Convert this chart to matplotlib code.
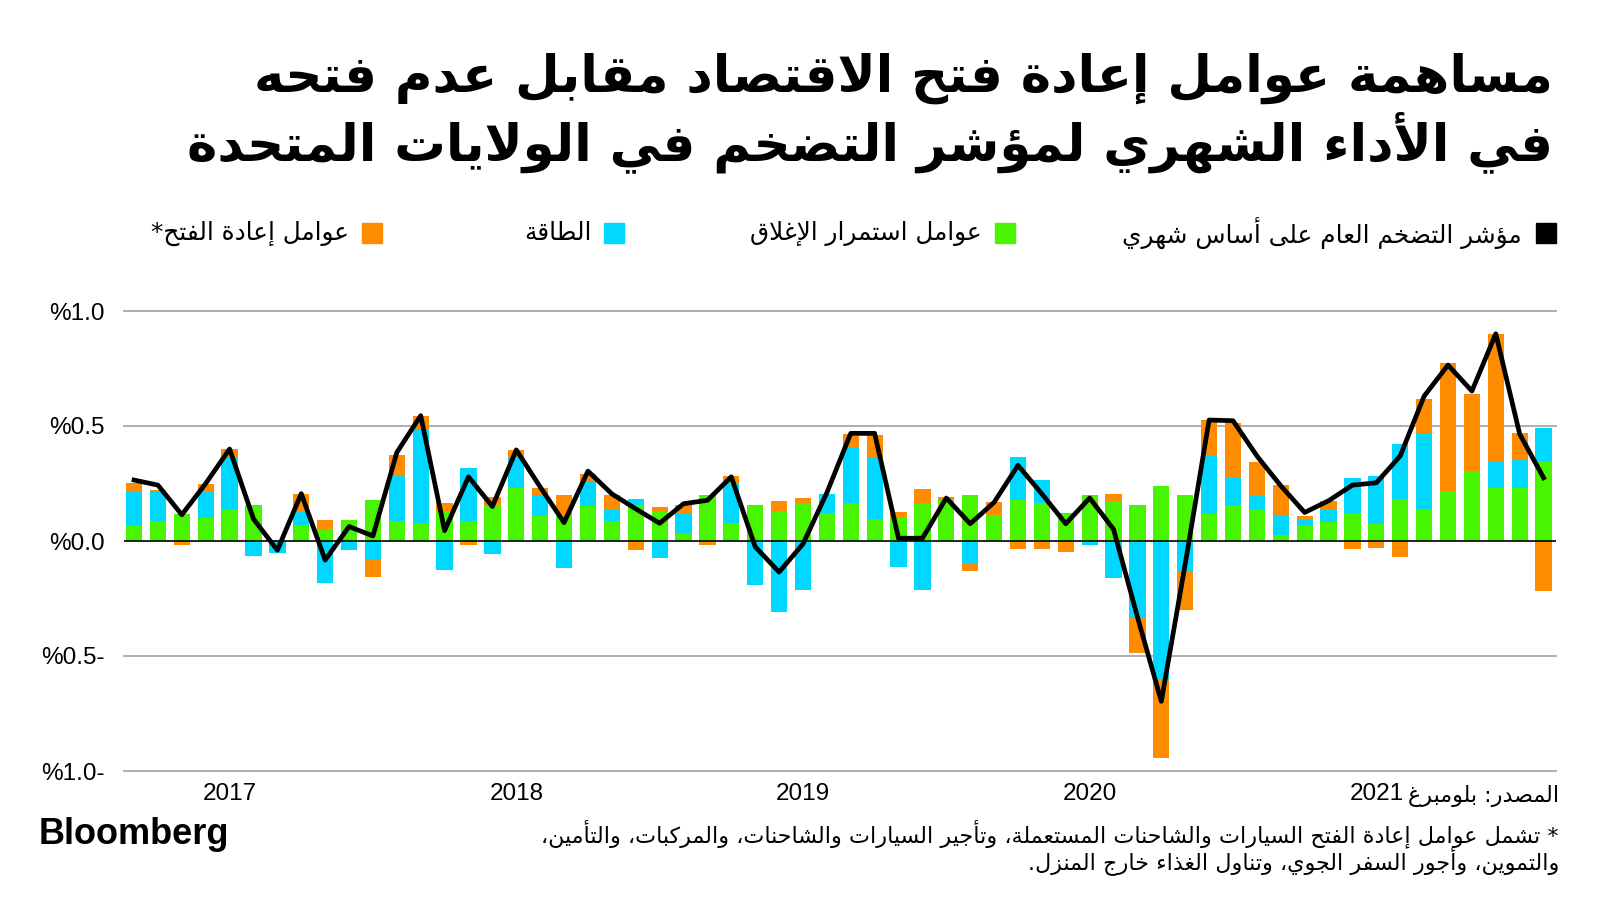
import numpy as np
import pandas as pd
import matplotlib
matplotlib.use('Agg')
import matplotlib.pyplot as plt
from matplotlib.patches import Rectangle

# monthly contributions to US CPI, Sep 2016 - Aug 2021 (percentage points)
months = pd.date_range('2016-09-01', '2021-08-01', freq='MS')

lockdown = [0.070, 0.088, 0.117, 0.098, 0.140, 0.158, 0.005, 0.070, 0.051, 0.092,
            0.177, 0.085, 0.080, 0.129, 0.088, 0.155, 0.230, 0.110, 0.107, 0.154,
            0.085, 0.155, 0.129, 0.029, 0.199, 0.080, 0.155, 0.132, 0.167, 0.123,
            0.164, 0.095, 0.098, 0.167, 0.177, 0.199, 0.114, 0.178, 0.165, 0.123,
            0.199, 0.173, 0.155, 0.238, 0.199, 0.118, 0.156, 0.137, 0.026, 0.069,
            0.082, 0.120, 0.075, 0.184, 0.133, 0.218, 0.306, 0.231, 0.231, 0.348]

energy = [0.142, 0.128, 0.000, 0.121, 0.223, -0.067, -0.050, 0.059, -0.184, -0.038,
          -0.082, 0.204, 0.408, -0.124, 0.228, -0.057, 0.133, 0.089, -0.118, 0.106,
          0.050, 0.028, -0.076, 0.092, 0.000, 0.173, -0.192, -0.307, -0.212, 0.080,
          0.242, 0.268, -0.111, -0.211, 0.000, -0.101, 0.000, 0.186, 0.100, 0.000,
          -0.019, -0.159, -0.336, -0.599, -0.135, 0.256, 0.116, 0.059, 0.081, 0.023,
          0.055, 0.155, 0.207, 0.237, 0.332, 0.000, 0.000, 0.118, 0.121, 0.142]

reopening = [0.041, 0.006, -0.019, 0.031, 0.039, 0.000, 0.000, 0.077, 0.041, 0.000,
             -0.073, 0.085, 0.057, 0.036, -0.019, 0.035, 0.033, 0.032, 0.095, 0.032,
             0.064, -0.038, 0.017, 0.034, -0.019, 0.031, 0.000, 0.043, 0.020, 0.000,
             0.059, 0.099, 0.028, 0.060, 0.015, -0.031, 0.054, -0.035, -0.035, -0.048,
             0.000, 0.033, -0.152, -0.344, -0.166, 0.152, 0.241, 0.148, 0.136, 0.018,
             0.036, -0.034, -0.031, -0.070, 0.153, 0.558, 0.334, 0.552, 0.117, -0.219]

headline = [0.265, 0.243, 0.114, 0.25, 0.40, 0.096, -0.04, 0.206, -0.083, 0.063,
            0.022, 0.385, 0.545, 0.045, 0.279, 0.15, 0.396, 0.235, 0.080, 0.304,
            0.205, 0.14, 0.077, 0.162, 0.177, 0.279, -0.025, -0.135, -0.013, 0.21,
            0.468, 0.468, 0.012, 0.012, 0.187, 0.075, 0.168, 0.329, 0.205, 0.075,
            0.187, 0.051, -0.33, -0.697, -0.10, 0.526, 0.523, 0.37, 0.24, 0.124,
            0.175, 0.243, 0.253, 0.370, 0.630, 0.765, 0.652, 0.901, 0.465, 0.275]

yticks = [1.0, 0.5, 0.0, -0.5, -1.0]
ytick_labels = ['%1.0', '%0.5', '%0.0', '%0.5-', '%1.0-']

title_lines = ['مساهمة عوامل إعادة فتح الاقتصاد مقابل عدم فتحه',
               'في الأداء الشهري لمؤشر التضخم في الولايات المتحدة']
legend_labels = ['مؤشر التضخم العام على أساس شهري', 'عوامل استمرار الإغلاق',
                 'الطاقة', 'عوامل إعادة الفتح*']
source = 'المصدر: بلومبرغ'
note_lines = ['* تشمل عوامل إعادة الفتح السيارات والشاحنات المستعملة، وتأجير السيارات والشاحنات، والمركبات، والتأمين،',
              'والتموين، وأجور السفر الجوي، وتناول الغذاء خارج المنزل.']

GREEN = '#48f400'
CYAN = '#00d8ff'
ORANGE = '#ff8b00'

# --- tiny arabic shaper (matplotlib has no text shaping / rtl) ---
dual = {'ئ': 0xFE89, 'ب': 0xFE8F, 'ت': 0xFE95, 'ث': 0xFE99, 'ج': 0xFE9D, 'ح': 0xFEA1,
        'خ': 0xFEA5, 'س': 0xFEB1, 'ش': 0xFEB5, 'ص': 0xFEB9, 'ض': 0xFEBD, 'ط': 0xFEC1,
        'ظ': 0xFEC5, 'ع': 0xFEC9, 'غ': 0xFECD, 'ف': 0xFED1, 'ق': 0xFED5, 'ك': 0xFED9,
        'ل': 0xFEDD, 'م': 0xFEE1, 'ن': 0xFEE5, 'ه': 0xFEE9, 'ي': 0xFEF1}
right = {'آ': 0xFE81, 'أ': 0xFE83, 'ؤ': 0xFE85, 'إ': 0xFE87, 'ا': 0xFE8D, 'ة': 0xFE93,
         'د': 0xFEA9, 'ذ': 0xFEAB, 'ر': 0xFEAD, 'ز': 0xFEAF, 'و': 0xFEED, 'ى': 0xFEEF}
lamalef = {'آ': 0xFEF5, 'أ': 0xFEF7, 'إ': 0xFEF9, 'ا': 0xFEFB}


def ar(txt):
    out = []
    i = 0
    while i < len(txt):
        c = txt[i]
        p = txt[i - 1] if i > 0 else ''
        nx = txt[i + 1] if i + 1 < len(txt) else ''
        link_prev = p in dual
        if c == 'ل' and nx in lamalef:
            out.append(chr(lamalef[nx] + (1 if link_prev else 0)))
            i += 2
            continue
        if c in dual:
            link_next = nx in dual or nx in right
            out.append(chr(dual[c] + (1 if link_prev else 0) + (2 if link_next else 0)))
        elif c in right:
            out.append(chr(right[c] + (1 if link_prev else 0)))
        elif c == 'ء':
            out.append('\uFE80')
        else:
            out.append(c)
        i += 1
    return ''.join(reversed(out))


plt.rcParams['font.family'] = ['Liberation Sans', 'DejaVu Sans']
AR = 'DejaVu Sans'

fig = plt.figure(figsize=(16, 9), dpi=100)
W, H = 1600, 900
ax = fig.add_axes([124 / W, 1 - 771 / H, (1556 - 124) / W, 460 / H])

x = np.arange(len(months))
pos_base = np.zeros(len(x))
neg_base = np.zeros(len(x))
for vals, col in [(lockdown, GREEN), (energy, CYAN), (reopening, ORANGE)]:
    vals = np.array(vals)
    bottom = np.where(vals >= 0, pos_base, neg_base)
    ax.bar(x, vals, bottom=bottom, width=0.68, color=col, linewidth=0, zorder=2)
    pos_base += np.clip(vals, 0, None)
    neg_base += np.clip(vals, None, 0)

ax.plot(x, headline, color='black', lw=3.4, zorder=4)

for yv in yticks:
    if yv == 0:
        ax.axhline(0, color='black', lw=1.2, zorder=3)
    else:
        ax.axhline(yv, color='#a8a8a8', lw=1.3, zorder=1, clip_on=False)

ax.set_xlim(-0.42, 59.52)
ax.set_ylim(-1, 1)
for s in ax.spines.values():
    s.set_visible(False)
ax.set_yticks(yticks)
ax.set_yticklabels(ytick_labels, fontsize=17.5)
jan = [i for i, m in enumerate(months) if m.month == 1]
ax.set_xticks(jan)
ax.set_xticklabels([str(months[i].year) for i in jan], fontsize=17.5)
ax.tick_params(axis='y', length=0, pad=14)
ax.tick_params(axis='x', length=0, pad=9)

# title
fig.text(1553 / W, 1 - 92 / H, ar(title_lines[0]), family=AR, fontweight='bold',
         fontsize=37, ha='right', va='baseline')
fig.text(1553 / W, 1 - 160 / H, ar(title_lines[1]), family=AR, fontweight='bold',
         fontsize=37, ha='right', va='baseline')

# legend
leg_y = 233
items = [(1546, 1522, 'black'), (1005, 982, GREEN), (614, 592, CYAN), (372, 349, ORANGE)]
for (sq_x, tx_x, col), lab in zip(items, legend_labels):
    fig.patches.append(Rectangle(((sq_x - 10) / W, 1 - (leg_y + 10) / H), 20 / W, 20 / H,
                                 transform=fig.transFigure, color=col))
    fig.text(tx_x / W, 1 - leg_y / H, ar(lab), family=AR, fontsize=17.8,
             ha='right', va='center')

# source / notes
fig.text(1559 / W, 1 - 796 / H, ar(source), family=AR, fontsize=16, ha='right', va='center')
fig.text(1559 / W, 1 - 834 / H, ar(note_lines[0]), family=AR, fontsize=16, ha='right', va='center')
fig.text(1559 / W, 1 - 861 / H, ar(note_lines[1]), family=AR, fontsize=16, ha='right', va='center')
fig.text(39 / W, 1 - 834 / H, 'Bloomberg', fontsize=26, fontweight='bold', ha='left', va='center')

fig.savefig('out.png', dpi=100, facecolor='white')
